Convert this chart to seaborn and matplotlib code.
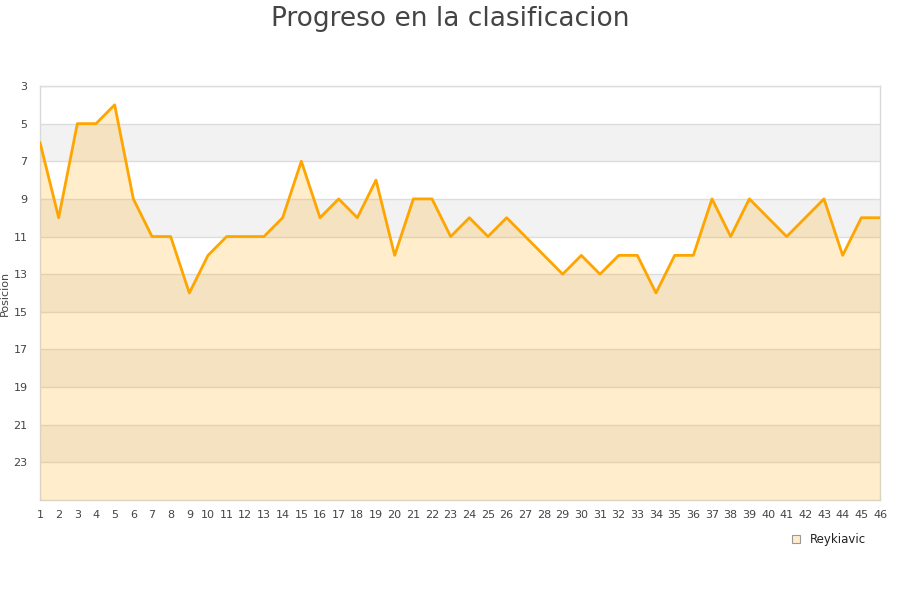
import matplotlib
matplotlib.use("Agg")
import matplotlib.pyplot as plt
import seaborn as sns
import pandas as pd
from matplotlib.lines import Line2D

# Jornadas y posicion de Reykiavic
jornadas = list(range(1, 47))
posicion = [6, 10, 5, 5, 4, 9, 11, 11, 14, 12,
            11, 11, 11, 10, 7, 10, 9, 10, 8, 12,
            9, 9, 11, 10, 11, 10, 11, 12, 13, 12,
            13, 12, 12, 14, 12, 12, 9, 11, 9, 10,
            11, 10, 9, 12, 10, 10]
y_ticks = [3, 5, 7, 9, 11, 13, 15, 17, 19, 21, 23]
equipo = "Reykiavic"

df = pd.DataFrame({"jornada": jornadas, "posicion": posicion})

sns.set_style("white")
plt.rcParams["font.family"] = ["DejaVu Sans"]

fig = plt.figure(figsize=(9, 6), dpi=100)
ax = fig.add_axes([40 / 900, 100 / 600, 840 / 900, 414 / 600])

# bandas alternas
for i, t in enumerate(y_ticks):
    if i % 2 == 1:
        ax.axhspan(t, t + 2, color="#f2f2f2", zorder=0, lw=0)

ax.fill_between(df["jornada"], df["posicion"], 25, color="orange", alpha=0.2, lw=0, zorder=3)
sns.lineplot(data=df, x="jornada", y="posicion", color="orange", lw=2, ax=ax, zorder=4)

ax.set_xlim(1, 46)
ax.set_ylim(25, 3)
ax.set_yticks(y_ticks)
ax.set_xticks(jornadas)
ax.grid(axis="y", color="#dddddd", lw=1, zorder=2)
ax.set_axisbelow(False)
for s in ax.spines.values():
    s.set_color("#d9d9d9")
    s.set_linewidth(1)
ax.tick_params(axis="both", length=0, labelsize=8, colors="#444444")
ax.tick_params(axis="x", pad=7)
ax.tick_params(axis="y", pad=9)
ax.set_xlabel("")
ax.set_ylabel("Posicion", fontsize=8, color="#444444")
ax.yaxis.set_label_coords(-30 / 840, 0.5)

fig.suptitle("Progreso en la clasificacion", fontsize=19, color="#444444", y=0.99)

handle = Line2D([], [], marker="s", ls="", markersize=6, markerfacecolor="#ffeccb",
                markeredgecolor="#999999", markeredgewidth=0.8)
fig.legend([handle], [equipo], loc="center", bbox_to_anchor=(828 / 900, 1 - 540 / 600),
           frameon=False, fontsize=8.5, handletextpad=0.6, handlelength=1.0,
           labelcolor="#222222")

fig.savefig("out.png", dpi=100)
